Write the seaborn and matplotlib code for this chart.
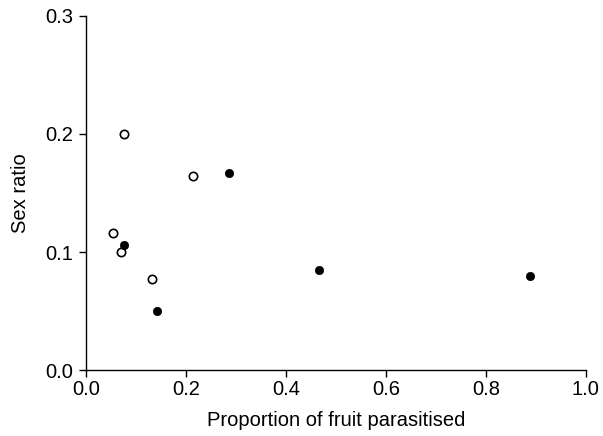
import pandas as pd
import matplotlib
matplotlib.use("Agg")
import matplotlib.pyplot as plt
import seaborn as sns

# data
open_x = [0.077, 0.215, 0.055, 0.071, 0.133]
open_y = [0.200, 0.164, 0.116, 0.100, 0.077]
filled_x = [0.077, 0.143, 0.286, 0.467, 0.889]
filled_y = [0.106, 0.050, 0.167, 0.085, 0.080]

x_ticks = [0.0, 0.2, 0.4, 0.6, 0.8, 1.0]
y_ticks = [0.0, 0.1, 0.2, 0.3]

df_open = pd.DataFrame({"x": open_x, "y": open_y})
df_filled = pd.DataFrame({"x": filled_x, "y": filled_y})

sns.set_theme(style="ticks")
plt.rcParams["font.family"] = ["Liberation Sans", "DejaVu Sans"]

fig = plt.figure(figsize=(6.03, 4.36), dpi=100)
ax = fig.add_axes([0.1426, 0.151, 0.829, 0.813])

sns.scatterplot(data=df_open, x="x", y="y", ax=ax, s=36, marker="o",
                facecolor="white", edgecolor="black", linewidth=1.2, zorder=3)
sns.scatterplot(data=df_filled, x="x", y="y", ax=ax, s=36, marker="o",
                color="black", edgecolor="black", linewidth=0.5, zorder=4)

ax.set_xlim(0, 1.0)
ax.set_ylim(0, 0.3)
ax.set_xticks(x_ticks)
ax.set_yticks(y_ticks)
ax.set_xticklabels([f"{t:.1f}" for t in x_ticks], fontsize=14.5)
ax.set_yticklabels([f"{t:.1f}" for t in y_ticks], fontsize=14.5)
ax.tick_params(direction="out", length=5, width=1, color="black", labelcolor="black")
ax.tick_params(axis="x", pad=2)
ax.tick_params(axis="y", pad=4)
ax.set_xlabel("Proportion of fruit parasitised", fontsize=14.5, color="black", labelpad=9)
ax.set_ylabel("Sex ratio", fontsize=14.5, color="black", labelpad=11)
for sp in ["left", "bottom"]:
    ax.spines[sp].set_color("black")
    ax.spines[sp].set_linewidth(1)
sns.despine(ax=ax)
for sp in ax.spines.values():
    sp.set_clip_on(False)

fig.savefig("out.png", dpi=100)
